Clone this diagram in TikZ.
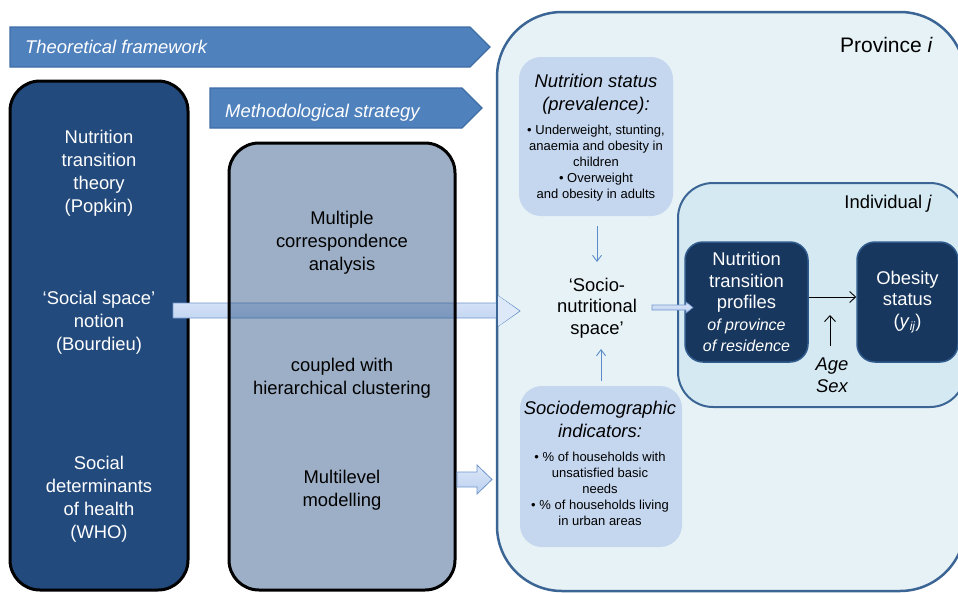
\documentclass[tikz,border=0pt]{standalone}
\usepackage{fontspec}
\setmainfont{Liberation Sans}
\usetikzlibrary{arrows.meta,calc}
\definecolor{bannerblue}{HTML}{4F81BD}
\definecolor{bannerline}{HTML}{3F6DA6}
\definecolor{theorybox}{HTML}{234A7C}
\definecolor{methodbase}{HTML}{1F497D}
\definecolor{provfill}{HTML}{E7F2F6}
\definecolor{provline}{HTML}{3B6595}
\definecolor{indivfill}{HTML}{D5E9F2}
\definecolor{lightbox}{HTML}{C5D7EF}
\definecolor{navybox}{HTML}{18375E}
\definecolor{navyline}{HTML}{2E5A8C}
\definecolor{arrowtop}{HTML}{DCE7F9}
\definecolor{arrowbot}{HTML}{BBD0EF}
\definecolor{arrowline}{HTML}{7096CE}
\definecolor{thinblue}{HTML}{5B8BC8}
\begin{document}
\begin{tikzpicture}[x=1pt,y=-1pt,
  every node/.style={inner sep=0pt,align=center},
  bigtxt/.style={font=\fontsize{18.4}{23}\selectfont},
  smalltxt/.style={font=\fontsize{13}{16}\selectfont},
  bannerstyle/.style={fill=bannerblue,draw=bannerline,line width=1.2pt},
  blockarrow/.style={top color=arrowtop,bottom color=arrowbot,draw=arrowline,line width=0.8pt},
  thinarrow/.style={draw=thinblue,line width=0.9pt,-{Straight Barb[length=6pt,width=9pt]}},
  blackarrow/.style={draw=black,line width=0.9pt,-{Straight Barb[length=6pt,width=11pt]}},
  navystyle/.style={fill=navybox,draw=navyline,line width=1.5pt,rounded corners=18pt,text=white}]
\useasboundingbox (0,0) rectangle (958,592);
\clip (0,0) rectangle (958,592);

% banners
\draw[bannerstyle] (10,27) -- (470,27) -- (490,47) -- (470,67) -- (10,67) -- cycle;
\node[bigtxt,anchor=base west,text=white,font=\fontsize{18.4}{23}\selectfont\itshape] (tf) at (25,53) {Theoretical framework};
\draw[bannerstyle] (210,88) -- (462,88) -- (482,108) -- (462,128) -- (210,128) -- cycle;
\node[anchor=base west,text=white,font=\fontsize{18.4}{23}\selectfont\itshape] (ms) at (225,117) {Methodological strategy};

% province box
\node[draw=provline,fill=provfill,line width=2.5pt,rounded corners=65pt,
  minimum width=468pt,minimum height=579pt] (prov) at (731,301.5) {};
\node[anchor=base east,font=\fontsize{21}{25}\selectfont] (provlbl) at (933,52) {Province \textit{i}};

% theory box
\node[draw=black,fill=theorybox,line width=3pt,rounded corners=30pt,
  minimum width=178pt,minimum height=509pt] (theory) at (99,335.5) {};
\node[bigtxt,text=white] (t1) at (99,173) {Nutrition\\transition\\theory\\(Popkin)};
\node[bigtxt,text=white] (t2) at (99,323) {‘Social space’\\notion\\(Bourdieu)};
\node[bigtxt,text=white] (t3) at (99,499.5) {Social\\determinants\\of health\\(WHO)};

% big block arrow (under the method box)
\draw[blockarrow] (173,303) -- (497,303) -- (497,295) -- (520,311) -- (497,327) -- (497,318) -- (173,318) -- cycle;
\draw[provline,line width=2.5pt] (497,290) -- (497,332);
\fill[provfill] (498.3,296) -- (519,311) -- (498.3,326) -- cycle;
\fill[arrowtop,opacity=0.9] (498.3,296.5) -- (518,311) -- (498.3,325.5) -- cycle;

% method box
\node[draw=black,fill=methodbase,fill opacity=0.44,draw opacity=1,line width=3pt,rounded corners=30pt,
  minimum width=226pt,minimum height=447pt] (method) at (342,366.5) {};
\node[bigtxt] (m1) at (342,243) {Multiple\\correspondence\\analysis};
\node[bigtxt] (m2) at (342,378) {coupled with\\hierarchical clustering};
\node[bigtxt] (m3) at (342,490) {Multilevel\\modelling};

% small block arrow
\draw[blockarrow] (457,472) -- (477,472) -- (477,465) -- (492,479.5) -- (477,494) -- (477,487) -- (457,487) -- cycle;

% nutrition status box
\node[fill=lightbox,rounded corners=22pt,minimum width=154pt,minimum height=159pt] (ns) at (596,136.5) {};
\node[font=\fontsize{18.4}{23}\selectfont\itshape] (nsh) at (596,94.5) {Nutrition status\\(prevalence):};
\node[smalltxt] (nsb) at (596,163.5) {\textbullet\ Underweight, stunting,\\anaemia and obesity in\\children\\\textbullet\ Overweight\\and obesity in adults};

% sociodemographic box
\node[fill=lightbox,rounded corners=22pt,minimum width=162pt,minimum height=161pt] (sd) at (601,466.5) {};
\node[font=\fontsize{18.4}{23}\selectfont\itshape] (sdh) at (600,419) {Sociodemographic\\indicators:};
\node[smalltxt] (sdb) at (600,489) {\textbullet\ \% of households with\\unsatisfied basic\\needs\\\textbullet\ \% of households living\\in urban areas};

% socio-nutritional space
\node[font=\fontsize{18.4}{21.5}\selectfont] (sns) at (597,308) {‘Socio-\\nutritional\\space’};
\coordinate (dnend) at (597,262);
\coordinate (upend) at (601,349);
\draw[thinarrow] ($(ns.south)+(1,10)$) -- (dnend);
\draw[thinarrow] ($(sd.north)+(0,-5)$) -- (upend);

% individual box
\node[draw=provline,fill=indivfill,line width=2pt,rounded corners=35pt,
  minimum width=287pt,minimum height=224pt] (indiv) at (821.5,295) {};
\node[anchor=base east,font=\fontsize{18.4}{23}\selectfont] (indlbl) at (932,208) {Individual \textit{j}};

% navy boxes
\node[navystyle,minimum width=123pt,minimum height=120pt,font=\fontsize{18.4}{21.5}\selectfont] (prof) at (746.5,302)
  {Nutrition\\transition\\profiles\\{\fontsize{16}{19}\selectfont\itshape of province}\\{\fontsize{16}{19}\selectfont\itshape of residence}};
\node[navystyle,minimum width=101pt,minimum height=120pt,font=\fontsize{18.4}{21.5}\selectfont] (obes) at (907.5,302)
  {Obesity\\status\\(\textit{y}\raisebox{-0.35ex}{\fontsize{12}{12}\selectfont\textit{ij}})};

% sns -> prof small block arrow
\draw[blockarrow,line width=0.6pt] (652,305) -- (686,305) -- (686,302) -- (693,307.5) -- (686,313) -- (686,310) -- (652,310) -- cycle;

% prof -> obesity
\draw[blackarrow] ([yshift=5pt]prof.east) -- ([yshift=5pt]obes.west);
\node[font=\fontsize{18.4}{22}\selectfont\itshape] (agesex) at (832,375) {Age\\Sex};
\coordinate (ageup) at (830,315);
\draw[blackarrow] ($(agesex.north)+(-2,-11)$) -- (ageup);
\end{tikzpicture}
\end{document}
